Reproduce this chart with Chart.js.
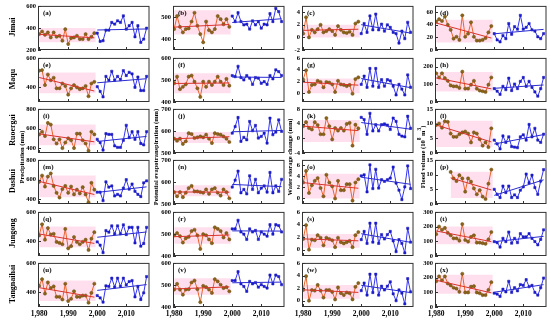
<!DOCTYPE html>
<html>
<head>
<meta charset="utf-8">
<script src="https://cdn.jsdelivr.net/npm/chart.js@4.4.1/dist/chart.umd.min.js"></script>
<style>
body { margin: 0; background: #fff; width: 550px; height: 322px; position: relative; overflow: hidden; font-family: 'Liberation Serif', 'Times New Roman', serif; }
.panel { position: absolute; }
.vlab { position: absolute; transform: translate(-50%, -50%) rotate(-90deg); white-space: nowrap; font-weight: bold; color: #000; }
</style>
</head>
<body>
<script>
// years of the two periods
const years1 = [1980, 1981, 1982, 1983, 1984, 1985, 1986, 1987, 1988, 1989, 1990, 1991, 1992, 1993, 1994, 1995, 1996, 1997, 1998, 1999];
const years2 = [2000, 2001, 2002, 2003, 2004, 2005, 2006, 2007, 2008, 2009, 2010, 2011, 2012, 2013, 2014, 2015, 2016, 2017];
const xTicks = [1980, 1990, 2000, 2010];

const stations = ['Jimai', 'Maqu', 'Ruoergai', 'Dashui', 'Jungong', 'Tangnaihai'];
const variables = ['Precipitation (mm)', 'Potential evapotranspiration (mm)', 'Water storage change (mm)', 'Flood volume (10<sup>8</sup> m<sup>3</sup>)'];
const letters = ['a','b','c','d','e','f','g','h','i','j','k','l','m','n','o','p','q','r','s','t','u','v','w','x'];

// Jimai
const a_early = [344,368,338,359,314,359,320,329,284,389,254,308,314,329,299,299,344,299,320,353];
const a_late  = [353,278,284,380,380,450,435,465,450,510,389,420,450,320,420,269,299,398];
const b_early = [445,504,455,430,445,448,479,519,460,422,385,479,440,430,445,504,490,467,490,455];
const b_late  = [504,479,519,479,464,467,445,482,464,479,449,467,464,515,479,539,524,479];
const c_early = [0.6,3.2,0,1.2,0.8,1.3,2.0,0.8,1.0,1.3,1.0,0.4,1.8,1.2,0.8,0.7,0.9,0.4,2.2,2.5];
const c_late  = [0.6,2.2,0.8,3.4,1.2,3.7,1.2,2.1,1.0,2.0,1.6,0.8,0.6,-0.9,1.0,-0.2,2.4,0.8];
const d_early = [45,49,46,53,40,32,18,21,16,55,21,26,44,21,15,15,16,19,28,38];
const d_late  = [26,16,13,23,18,42,25,37,33,55,33,36,42,32,30,21,18,26];
// Maqu
const e_early = [513,517,415,487,448,465,393,393,426,409,350,393,415,400,387,393,409,339,426,437];
const e_late  = [404,372,335,474,448,509,448,474,452,513,480,502,491,400,470,378,378,474];
const f_early = [485,515,458,469,480,515,520,492,462,423,492,469,492,477,492,515,492,477,505,474];
const f_late  = [520,515,562,511,500,520,508,480,511,508,485,492,480,520,505,546,538,520];
const g_early = [2.3,3.9,0.2,1.4,1.5,2.1,1.9,1.0,1.9,1.8,1.5,0.2,2.1,1.5,1.4,1.2,1.4,-0.1,2.4,2.7];
const g_late  = [1.5,2.9,1.0,4.2,1.2,4.2,1.0,2.3,1.2,2.3,2.1,1.2,-0.3,1.5,0.7,-0.3,3.1,1.0];
const h_early = [163,139,163,135,120,94,89,89,80,172,76,76,98,120,76,65,61,57,98,139];
const h_late  = [76,61,43,89,70,135,65,102,76,117,139,89,117,83,57,33,76,139];
// Ruoergai
const i_early = [540,567,523,657,640,490,447,490,400,457,500,480,400,547,547,480,447,373,567,540];
const i_late  = [490,457,380,547,540,540,423,407,407,480,633,507,567,490,567,447,433,567];
const j_early = [565,556,565,541,553,590,586,568,571,575,571,583,565,545,590,586,583,575,565,550];
const j_late  = [590,620,661,553,571,560,643,601,625,568,575,590,545,658,583,595,650,598];
const k_early = [3.3,4.4,2.8,2.4,4.4,3.6,1.1,1.1,5.5,3.3,-0.3,2.8,2.1,2.8,2.1,3.9,4.2,-2.0,3.7,2.7];
const k_late  = [5.7,5.1,1.1,6.8,2.0,3.7,2.0,3.7,3.9,3.6,2.4,5.5,4.6,1.1,0.6,0.4,6.0,2.7];
const l_early = [9.5,10,8.6,10.8,10.6,6.6,5.5,5.5,6.4,7.0,7.3,6.6,3.6,7.0,6.6,4.7,2.5,3.6,2.0,8.4];
const l_late  = [4.4,3.1,1.4,5.8,3.6,5.5,2.2,2.0,1.8,5.5,6.2,4.4,9.7,5.5,8.4,4.4,3.6,6.4];
// Dashui
const m_early = [576,640,528,630,662,534,464,416,502,534,464,528,448,496,458,522,448,368,566,496];
const m_late  = [470,470,384,576,522,534,432,448,432,512,598,502,554,480,448,426,566,586];
const n_early = [554,535,554,531,551,572,582,557,557,554,551,566,546,566,572,551,538,566,554,526];
const n_late  = [577,608,649,551,566,546,628,566,612,551,572,582,554,643,551,582,557,612];
const o_early = [2.9,5.0,1.0,2.4,3.2,3.7,1.9,0.4,4.3,2.9,2.2,0.0,3.2,1.5,1.5,2.6,2.6,-0.4,2.9,3.5];
const o_late  = [4.1,4.3,1.2,6.1,1.8,5.3,1.9,3.4,3.1,3.4,3.7,5.7,2.8,1.5,-0.2,2.1,5.9,1.8];
const p_early = [null,null,null,null,null,10.9,8.7,7.8,9.8,8.7,4.2,8.7,7.6,5.3,3.3,4.7,2.5,1.7,6.9,11.7];
const p_late  = [5.0,3.3,2.2,6.1,3.9,6.1,2.2,3.1,2.2,4.7,5.8,10.2,7.2,9.8,5.6,3.3,7.8,11.7];
// Jungong
const q_early = [440,516,411,490,446,451,396,389,380,484,352,367,429,396,380,396,411,341,418,462];
const q_late  = [396,374,323,473,462,505,451,505,451,512,446,495,495,389,495,367,385,495];
const r_early = [494,504,490,461,480,487,513,519,494,432,499,494,475,458,530,523,513,484,504,475];
const r_late  = [523,523,562,509,499,475,523,509,516,475,509,499,490,542,499,542,538,509];
const s_early = [1.7,3.9,0.0,1.6,1.5,2.3,1.9,0.7,1.9,1.7,1.5,0.4,1.9,1.2,1.0,1.2,1.4,0.4,2.3,2.8];
const s_late  = [1.6,2.9,1.0,4.2,1.2,4.2,1.0,2.4,1.7,2.4,2.9,1.4,-0.3,1.6,1.0,-0.5,3.4,1.2];
const t_early = [148,200,178,191,157,141,120,120,104,217,109,98,130,141,91,91,87,83,113,163];
const t_late  = [98,91,61,120,98,163,87,120,91,152,130,130,152,120,98,76,113,178];
// Tangnaihai
const u_early = [444,489,391,467,429,440,369,369,351,458,340,356,407,369,369,378,378,329,396,458];
const u_late  = [378,362,333,444,440,496,436,496,440,496,451,473,480,369,440,351,396,507];
const v_early = [479,505,479,456,479,481,511,520,481,422,496,490,479,464,526,516,501,486,490,471];
const v_late  = [520,520,560,505,493,471,516,505,511,490,501,493,486,545,505,545,538,501];
const w_early = [1.7,3.9,0.0,1.7,1.6,2.5,1.6,0.5,1.7,1.7,1.4,0.2,2.1,1.2,0.9,1.3,1.2,0.2,2.2,2.8];
const w_late  = [1.6,2.8,0.9,4.2,1.3,4.2,0.9,2.3,1.7,2.3,3.0,1.1,0.0,1.7,1.2,-0.5,3.5,1.4];
const x_early = [175,208,182,208,160,147,131,125,103,226,99,99,138,142,99,94,81,81,116,169];
const x_late  = [94,88,72,121,103,175,99,131,110,153,147,186,138,147,99,81,131,197];

const earlySeries = [a_early,b_early,c_early,d_early,e_early,f_early,g_early,h_early,i_early,j_early,k_early,l_early,
                     m_early,n_early,o_early,p_early,q_early,r_early,s_early,t_early,u_early,v_early,w_early,x_early];
const lateSeries  = [a_late,b_late,c_late,d_late,e_late,f_late,g_late,h_late,i_late,j_late,k_late,l_late,
                     m_late,n_late,o_late,p_late,q_late,r_late,s_late,t_late,u_late,v_late,w_late,x_late];

// y axis ranges and tick labels per panel
const yMin = [200,350,-2,0, 300,400,-1.5,0, 350,500,-4,0, 350,500,-1,0, 300,400,-1,0, 300,400,-1,0];
const yMax = [600,550,5,70, 600,600,6,250, 800,700,8,15, 800,700,7,15, 600,600,6,300, 600,600,6,300];
const yTicks = [
  [200,400,600],[400,500],[-2,0,2,4],[0,20,40,60],
  [400,600],[400,500,600],[0,2,4,6],[0,100,200],
  [400,600,800],[500,600,700],[-4,0,4,8],[0,5,10,15],
  [400,600,800],[500,600,700],[0,2,4,6],[0,5,10,15],
  [400,600],[400,500,600],[0,2,4,6],[0,100,200,300],
  [400,600],[400,500,600],[0,2,4,6],[0,100,200,300]
];

// pink shaded range of the first period
const bandFrom = [1980,1980,1980,1980, 1980,1980,1980,1980, 1980,1980,1980,1980, 1980,1980,1980,1985, 1980,1980,1980,1980, 1980,1980,1980,1980];
const bandLow  = [270,420,0,12, 360,440,0,60, 430,545,-1,2, 420,535,0,2, 360,455,0.3,80, 340,455,0.3,90];
const bandHigh = [400,530,2,48, 500,530,2.5,170, 640,595,5,11, 640,585,4.5,11, 500,530,2.5,200, 480,530,2.5,220];

const colLeft = [38, 173, 302, 434.5];
const rowTop = [4, 56, 107, 158, 210, 261];
const PW = 112, PH = 46, YW = 26;

function trend(xs, ys) {
  const pts = xs.map((x, i) => [x, ys[i]]).filter(p => p[1] != null);
  const n = pts.length;
  const mx = pts.reduce((s, p) => s + p[0], 0) / n;
  const my = pts.reduce((s, p) => s + p[1], 0) / n;
  let sxy = 0, sxx = 0;
  pts.forEach(p => { sxy += (p[0] - mx) * (p[1] - my); sxx += (p[0] - mx) * (p[0] - mx); });
  const k = sxy / sxx;
  const x0 = pts[0][0], x1 = pts[n - 1][0];
  return [{ x: x0, y: my + k * (x0 - mx) }, { x: x1, y: my + k * (x1 - mx) }];
}

const boxPlugin = {
  id: 'box',
  afterDatasetsDraw(chart, args, opts) {
    const { ctx, chartArea: a, scales } = chart;
    ctx.save();
    ctx.strokeStyle = '#333';
    ctx.lineWidth = 1;
    ctx.strokeRect(a.left + 0.5, a.top + 0.5, a.width - 1, a.height - 1);
    ctx.beginPath();
    scales.x.ticks.forEach(t => {
      const px = Math.round(scales.x.getPixelForValue(t.value)) + 0.5;
      ctx.moveTo(px, a.bottom); ctx.lineTo(px, a.bottom - 3);
    });
    scales.y.ticks.forEach(t => {
      const py = Math.round(scales.y.getPixelForValue(t.value)) + 0.5;
      ctx.moveTo(a.left, py); ctx.lineTo(a.left + 3, py);
    });
    ctx.stroke();
    ctx.fillStyle = '#000';
    ctx.font = 'bold 7px "Liberation Serif"';
    ctx.textBaseline = 'top';
    ctx.fillText('(' + opts.label + ')', a.left + 5, a.top + 4);
    ctx.restore();
  }
};

function makePanel(i) {
  const r = Math.floor(i / 4), c = i % 4;
  const bottom = r === 5;
  const xh = bottom ? 14 : 2;
  const w = YW + PW + 4, h = 4 + PH + xh + 4;
  const div = document.createElement('div');
  div.className = 'panel';
  div.style.left = (colLeft[c] - YW) + 'px';
  div.style.top = (rowTop[r] - 4) + 'px';
  const cv = document.createElement('canvas');
  cv.width = w; cv.height = h;
  cv.style.width = w + 'px'; cv.style.height = h + 'px';
  div.appendChild(cv);
  document.body.appendChild(div);

  const early = earlySeries[i], late = lateSeries[i];
  new Chart(cv, {
    type: 'line',
    data: {
      datasets: [
        {
          data: [{ x: bandFrom[i], y: bandHigh[i] }, { x: 1999.5, y: bandHigh[i] }],
          fill: { value: bandLow[i] },
          backgroundColor: 'rgba(255,185,215,0.45)',
          borderWidth: 0, pointRadius: 0, order: 5
        },
        {
          data: years1.map((x, k) => ({ x, y: early[k] })),
          borderColor: '#e8642c', borderWidth: 1,
          pointRadius: 1.6, pointStyle: 'circle',
          pointBackgroundColor: '#8a6418', pointBorderColor: '#6e4a10', pointBorderWidth: 0.5,
          spanGaps: false, order: 3
        },
        {
          data: trend(years1, early),
          borderColor: '#d8332a', borderWidth: 1, pointRadius: 0, order: 1
        },
        {
          data: years2.map((x, k) => ({ x, y: late[k] })),
          borderColor: '#3434f0', borderWidth: 1,
          pointRadius: 1.6, pointStyle: 'rect',
          pointBackgroundColor: '#1c1cd8', pointBorderColor: '#1414b0', pointBorderWidth: 0.5,
          order: 2
        },
        {
          data: trend(years2, late),
          borderColor: '#2a2ad0', borderWidth: 1, pointRadius: 0, order: 0
        }
      ]
    },
    options: {
      responsive: false,
      animation: false,
      events: [],
      layout: { padding: { left: 0, right: 4, top: 4, bottom: 4 } },
      plugins: {
        legend: { display: false },
        tooltip: { enabled: false },
        box: { label: letters[i] }
      },
      scales: {
        x: {
          type: 'linear', min: 1979.6, max: 2018,
          grid: { display: false, drawTicks: false },
          border: { display: false },
          afterBuildTicks: s => { s.ticks = xTicks.map(v => ({ value: v })); },
          afterFit: s => { s.height = xh; },
          ticks: {
            display: bottom, autoSkip: false, maxRotation: 0, padding: 3,
            color: '#000', font: { family: 'Liberation Serif', size: 7.5, weight: 'bold' }
          }
        },
        y: {
          min: yMin[i], max: yMax[i],
          grid: { display: false, drawTicks: false },
          border: { display: false },
          afterBuildTicks: s => { s.ticks = yTicks[i].map(v => ({ value: v })); },
          afterFit: s => { s.width = YW; },
          ticks: {
            padding: 2, color: '#000',
            font: { family: 'Liberation Serif', size: 6.5, weight: 'bold' }
          }
        }
      }
    },
    plugins: [boxPlugin]
  });
}

function addLabel(html, x, y, size) {
  const d = document.createElement('div');
  d.className = 'vlab';
  d.style.left = x + 'px';
  d.style.top = y + 'px';
  d.style.fontSize = size + 'px';
  d.innerHTML = html;
  document.body.appendChild(d);
}

for (let i = 0; i < 24; i++) makePanel(i);

stations.forEach((s, r) => addLabel(s, 12, rowTop[r] + PH / 2, 8));
const titleX = [21, 155, 289, 421];
variables.forEach((v, c) => addLabel(v, titleX[c], 157, 6.5));
</script>
</body>
</html>
